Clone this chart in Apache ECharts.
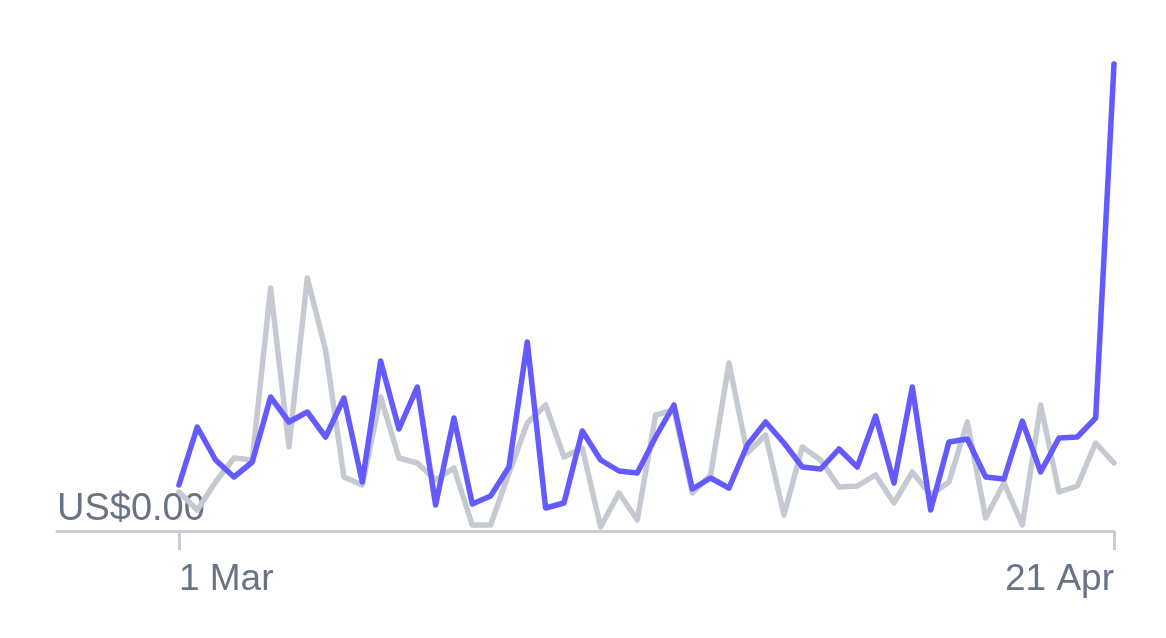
<!DOCTYPE html>
<html>
<head>
<meta charset="utf-8">
<script src="https://cdn.jsdelivr.net/npm/echarts@6/dist/echarts.min.js"></script>
<style>
html,body{margin:0;padding:0;background:#fff;}
#c{width:1166px;height:638px;}
</style>
</head>
<body>
<div id="c"></div>
<script>
// Days from 1 Mar to 21 Apr
const categories = [];
for (let d = 1; d <= 31; d++) categories.push(d + ' Mar');
for (let d = 1; d <= 21; d++) categories.push(d + ' Apr');

const currentPeriod = [46,104,71,54,69,134,109,119,94,133,49,170,102,144,26,113,27,35,64,189,23,28,100,71,60,58,94,126,42,53,43,86,109,88,64,62,82,64,115,48,144,21,89,92,54,52,110,59,93,94,113,467];
const previousPeriod = [39,21,49,73,71,243,84,253,181,54,46,134,73,68,51,63,6,6,58,108,126,74,83,4,38,11,116,121,38,56,168,78,96,16,84,71,44,45,56,28,59,36,49,109,13,48,6,126,39,45,88,68];

const xTickLabels = ['1 Mar', '21 Apr'];
const yTickLabels = ['US$0.00'];

const firstIdx = categories.indexOf(xTickLabels[0]);
const lastIdx = categories.indexOf(xTickLabels[1]);

const toPairs = arr => arr.map((v, i) => [i, v]);

const labelColor = '#697386';
const axisColor = '#c8ccd5';
const font = 'Liberation Sans, Helvetica, Arial, sans-serif';

const chart = echarts.init(document.getElementById('c'), null, {renderer: 'canvas'});
chart.setOption({
  animation: false,
  grid: {left: 57, right: 52, top: 31, bottom: 107, containLabel: false},
  xAxis: [
    {
      type: 'value', min: -6.65, max: lastIdx,
      axisLine: {show: true, lineStyle: {color: axisColor, width: 3}},
      axisTick: {show: true, customValues: [firstIdx], length: 19, lineStyle: {color: axisColor, width: 3}},
      splitLine: {show: false},
      axisLabel: {
        customValues: [firstIdx], align: 'left', margin: 30,
        color: labelColor, fontSize: 37, fontFamily: font,
        formatter: v => categories[Math.round(v)]
      }
    },
    {
      type: 'value', min: -6.65, max: lastIdx, position: 'bottom',
      axisLine: {show: false},
      axisTick: {show: true, customValues: [lastIdx], length: 19, lineStyle: {color: axisColor, width: 3}},
      splitLine: {show: false},
      axisLabel: {
        customValues: [lastIdx], align: 'right', margin: 30,
        color: labelColor, fontSize: 37, fontFamily: font,
        formatter: v => categories[Math.round(v)]
      }
    }
  ],
  yAxis: {
    type: 'value', min: 0, max: 500, z: 0,
    axisLine: {show: false}, axisTick: {show: false}, splitLine: {show: false},
    axisLabel: {
      customValues: [0], inside: true, align: 'left', verticalAlign: 'bottom', margin: 0,
      padding: [0, 0, 2, 0],
      color: labelColor, fontSize: 38, fontFamily: font,
      formatter: () => yTickLabels[0]
    }
  },
  series: [
    {
      type: 'line', name: 'Previous period', data: toPairs(previousPeriod),
      symbol: 'none', z: 2,
      lineStyle: {color: '#c4c9d2', width: 5.5, join: 'round', cap: 'round'}
    },
    {
      type: 'line', name: 'Current period', data: toPairs(currentPeriod),
      symbol: 'none', z: 3,
      lineStyle: {color: '#635bff', width: 5.5, join: 'round', cap: 'round'}
    }
  ]
});
</script>
</body>
</html>
